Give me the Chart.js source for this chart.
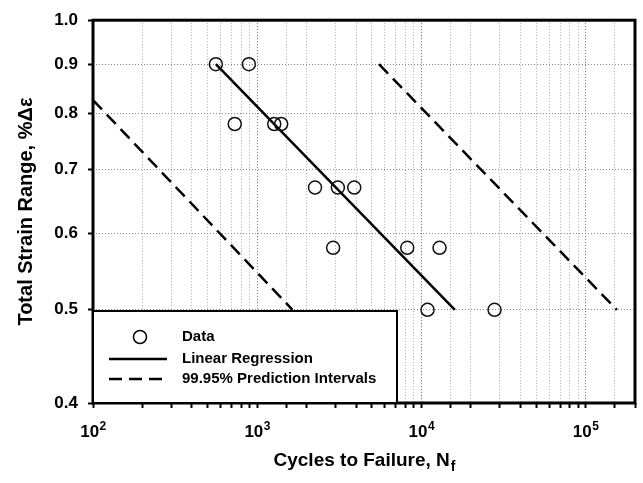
<!DOCTYPE html>
<html>
<head>
<meta charset="utf-8">
<title>Total Strain Range vs Cycles to Failure</title>
<script src="https://cdn.jsdelivr.net/npm/chart.js@4.4.1/dist/chart.umd.min.js"></script>
<style>
  html, body { margin: 0; padding: 0; background: #fff; }
  #wrap { width: 643px; height: 483px; }
</style>
</head>
<body>
<div id="wrap"><canvas id="strainChart" width="643" height="483"></canvas></div>
<script>
// Test data
const cycles = [560, 890, 730, 1270, 1400, 2250, 3100, 3900, 2900, 8200, 12900, 10900, 27900];
const strain = [0.90, 0.90, 0.78, 0.78, 0.78, 0.67, 0.67, 0.67, 0.58, 0.58, 0.58, 0.50, 0.50];

// Linear regression and prediction bounds (end points)
const fitCycles = [560, 16000];
const fitStrain = [0.90, 0.50];
const lowerCycles = [100, 1640];
const lowerStrain = [0.826, 0.50];
const upperCycles = [5520, 155000];
const upperStrain = [0.90, 0.50];

// Axes
const xMin = 100, xMax = 200000;
const yMin = 0.4, yMax = 1.0;
const yTicks = [0.4, 0.5, 0.6, 0.7, 0.8, 0.9, 1.0];
const xDecades = [2, 3, 4, 5];

const legendLabels = ['Data', 'Linear Regression', '99.95% Prediction Intervals'];
const xTitle = 'Cycles to Failure, N';
const xTitleSub = 'f';
const yTitle = 'Total Strain Range, %Δε';

const FONT = "'Liberation Sans', Arial, sans-serif";
const DASH = [13, 7];

function toPoints(xs, ys) {
  return xs.map((x, i) => ({ x: x, y: ys[i] }));
}

function isPow10(v) {
  const e = Math.log10(v);
  return Math.abs(e - Math.round(e)) < 1e-9;
}

/**
 * Frame, power-of-ten labels, axis titles and the boxed legend
 */
const decorations = {
  id: 'decorations',
  afterDraw(chart) {
    const ctx = chart.ctx;
    const a = chart.chartArea;
    const xScale = chart.scales.x;
    ctx.save();

    // plot frame
    ctx.strokeStyle = '#000';
    ctx.lineWidth = 3;
    ctx.strokeRect(a.left, a.top, a.right - a.left, a.bottom - a.top);

    // x tick labels as 10^n
    ctx.fillStyle = '#000';
    ctx.textAlign = 'left';
    ctx.textBaseline = 'alphabetic';
    xDecades.forEach(n => {
      const px = xScale.getPixelForValue(Math.pow(10, n));
      ctx.font = 'bold 17px ' + FONT;
      const baseW = ctx.measureText('10').width;
      ctx.font = 'bold 12px ' + FONT;
      const expW = ctx.measureText(String(n)).width;
      const x0 = px - (baseW + expW) / 2;
      ctx.font = 'bold 17px ' + FONT;
      ctx.fillText('10', x0, 437);
      ctx.font = 'bold 12px ' + FONT;
      ctx.fillText(String(n), x0 + baseW + 0.5, 430);
    });

    // legend box
    const lx = a.left, lw = 304, lh = 92, ly = a.bottom - lh;
    ctx.fillStyle = '#fff';
    ctx.fillRect(lx, ly, lw, lh);
    ctx.lineWidth = 2;
    ctx.strokeRect(lx, ly, lw, lh);

    const rows = [ly + 26, ly + 48, ly + 68];
    ctx.lineWidth = 1.5;
    ctx.beginPath();
    ctx.arc(lx + 47, rows[0], 6.5, 0, Math.PI * 2);
    ctx.stroke();

    ctx.lineWidth = 2.5;
    ctx.beginPath();
    ctx.moveTo(lx + 16, rows[1]);
    ctx.lineTo(lx + 74, rows[1]);
    ctx.stroke();

    ctx.setLineDash(DASH);
    ctx.beginPath();
    ctx.moveTo(lx + 16, rows[2]);
    ctx.lineTo(lx + 74, rows[2]);
    ctx.stroke();
    ctx.setLineDash([]);

    ctx.fillStyle = '#000';
    ctx.font = 'bold 15px ' + FONT;
    ctx.textBaseline = 'middle';
    legendLabels.forEach((t, i) => ctx.fillText(t, lx + 89, rows[i]));

    // x title with subscript
    ctx.font = 'bold 19px ' + FONT;
    const mainW = ctx.measureText(xTitle).width;
    ctx.font = 'bold 14px ' + FONT;
    const subW = ctx.measureText(xTitleSub).width;
    let tx = (a.left + a.right) / 2 - (mainW + subW) / 2;
    ctx.font = 'bold 19px ' + FONT;
    ctx.fillText(xTitle, tx, 461);
    ctx.font = 'bold 14px ' + FONT;
    ctx.fillText(xTitleSub, tx + mainW + 1, 467);

    // y title
    ctx.translate(26, (a.top + a.bottom) / 2);
    ctx.rotate(-Math.PI / 2);
    ctx.textAlign = 'center';
    ctx.font = 'bold 20px ' + FONT;
    ctx.fillText(yTitle, 0, 0);

    ctx.restore();
  }
};

/**
 * Build the strain-life chart
 */
function initializeChart() {
  const ctx = document.getElementById('strainChart');
  const tickFont = { family: FONT, size: 17, weight: 'bold' };

  new Chart(ctx, {
    type: 'scatter',
    data: {
      datasets: [
        {
          label: 'Data',
          data: toPoints(cycles, strain),
          pointStyle: 'circle',
          pointRadius: 6.5,
          pointBorderWidth: 1.5,
          borderColor: '#111',
          backgroundColor: 'rgba(0,0,0,0)',
          showLine: false
        },
        {
          label: 'Linear Regression',
          data: toPoints(fitCycles, fitStrain),
          showLine: true,
          borderColor: '#000',
          borderWidth: 2.5,
          pointRadius: 0
        },
        {
          label: 'Lower 99.95% PI',
          data: toPoints(lowerCycles, lowerStrain),
          showLine: true,
          borderColor: '#000',
          borderWidth: 2.5,
          borderDash: DASH,
          pointRadius: 0
        },
        {
          label: 'Upper 99.95% PI',
          data: toPoints(upperCycles, upperStrain),
          showLine: true,
          borderColor: '#000',
          borderWidth: 2.5,
          borderDash: DASH,
          pointRadius: 0
        }
      ]
    },
    options: {
      responsive: false,
      animation: false,
      layout: { padding: { left: 0, top: 16, right: 2, bottom: 0 } },
      plugins: {
        legend: { display: false },
        tooltip: { enabled: false }
      },
      scales: {
        x: {
          type: 'logarithmic',
          min: xMin,
          max: xMax,
          afterFit: s => { s.height = 80; },
          border: { display: false, dash: [1, 2] },
          grid: {
            color: c => (c.tick && isPow10(c.tick.value) ? '#666' : '#aaa'),
            lineWidth: 1,
            tickLength: 5,
            tickColor: '#000',
            tickWidth: 2,
            tickBorderDash: []
          },
          ticks: {
            autoSkip: false,
            maxRotation: 0,
            color: '#000',
            font: tickFont,
            // labels are drawn as 10^n by the decorations plugin
            callback: () => ''
          }
        },
        y: {
          type: 'logarithmic',
          min: yMin,
          max: yMax,
          afterFit: s => { s.width = 93; },
          afterBuildTicks: s => { s.ticks = yTicks.map(v => ({ value: v })); },
          border: { display: false, dash: [1, 2] },
          grid: {
            color: '#888',
            lineWidth: 1,
            tickLength: 5,
            tickColor: '#000',
            tickWidth: 2,
            tickBorderDash: []
          },
          ticks: {
            autoSkip: false,
            padding: 10,
            color: '#000',
            font: tickFont,
            callback: v => Number(v).toFixed(1)
          }
        }
      }
    },
    plugins: [decorations]
  });
}

// Initialize on page load
document.addEventListener('DOMContentLoaded', function() {
  initializeChart();
});
</script>
</body>
</html>
